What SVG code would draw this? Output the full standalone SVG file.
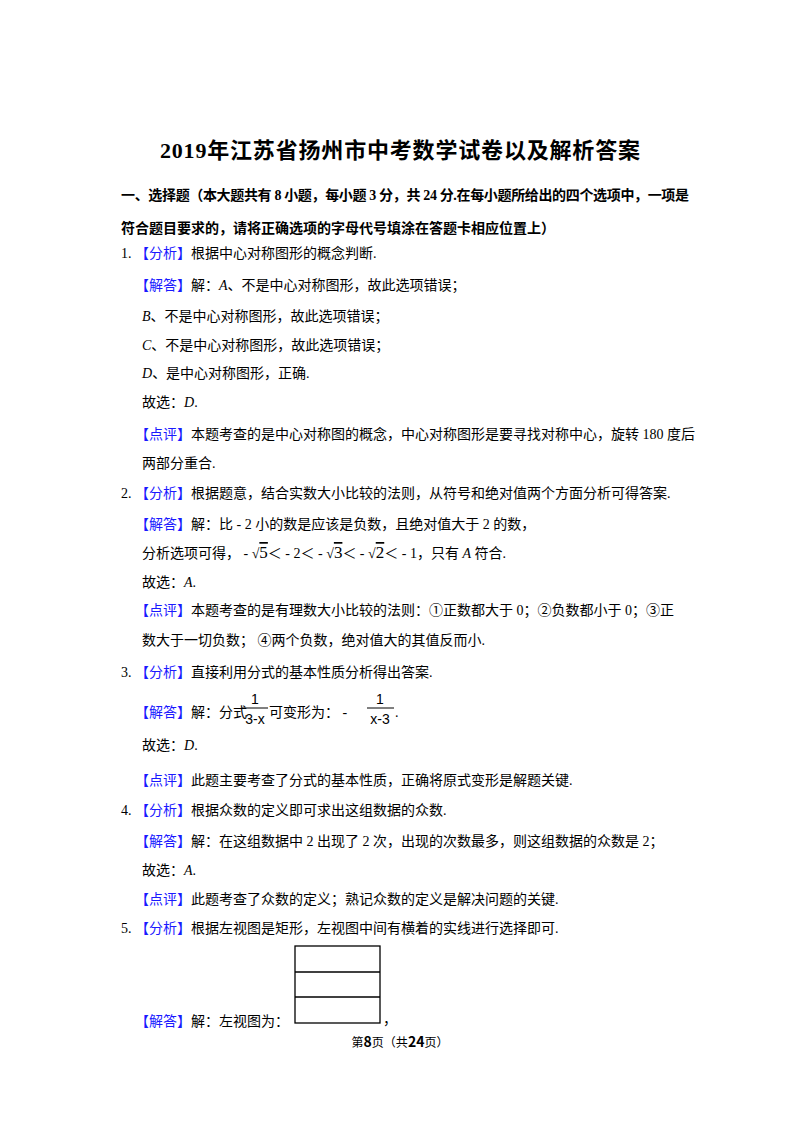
<svg xmlns="http://www.w3.org/2000/svg" width="800" height="1132" viewBox="0 0 800 1132">
<style>
text{font-family:"Liberation Serif","Noto Sans CJK SC",serif;font-size:14px;fill:#000}
.b{fill:#1a1aff}
.t{font-size:22px;font-weight:bold}
.h{font-weight:bold}
.i{font-style:italic}
.f{font-family:"Liberation Sans","Noto Sans CJK SC",sans-serif;font-size:14px}
.o{text-decoration:overline}
</style>
<rect width="800" height="1132" fill="#fff"/>
<text class="t" x="400" y="158" text-anchor="middle" textLength="480">2019年江苏省扬州市中考数学试卷以及解析答案</text>
<text class="h" x="121" y="200" textLength="568">一、选择题（本大题共有 8 小题，每小题 3 分，共 24 分.在每小题所给出的四个选项中，一项是</text>
<text class="h" x="121" y="233">符合题目要求的，请将正确选项的字母代号填涂在答题卡相应位置上）</text>
<text x="121" y="258">1.  <tspan class="b">【分析】</tspan>根据中心对称图形的概念判断.</text>
<text x="135" y="290"><tspan class="b">【解答】</tspan>解：<tspan class="i">A</tspan>、不是中心对称图形，故此选项错误；</text>
<text x="142" y="321"><tspan class="i">B</tspan>、不是中心对称图形，故此选项错误；</text>
<text x="142" y="350"><tspan class="i">C</tspan>、不是中心对称图形，故此选项错误；</text>
<text x="142" y="378"><tspan class="i">D</tspan>、是中心对称图形，正确.</text>
<text x="142" y="407">故选：<tspan class="i">D</tspan>.</text>
<text x="135" y="439"><tspan class="b">【点评】</tspan>本题考查的是中心对称图的概念，中心对称图形是要寻找对称中心，旋转 180 度后</text>
<text x="142" y="468">两部分重合.</text>
<text x="121" y="498">2.  <tspan class="b">【分析】</tspan>根据题意，结合实数大小比较的法则，从符号和绝对值两个方面分析可得答案.</text>
<text x="135" y="529"><tspan class="b">【解答】</tspan>解：比 - 2 小的数是应该是负数，且绝对值大于 2 的数，</text>
<text x="142" y="558">分析选项可得，  - √<tspan class="o" font-size="17">5</tspan>＜ - 2＜ - √<tspan class="o" font-size="17">3</tspan>＜ - √<tspan class="o" font-size="17">2</tspan>＜ - 1，只有 <tspan class="i">A</tspan> 符合.</text>
<text x="142" y="587">故选：<tspan class="i">A</tspan>.</text>
<text x="135" y="615"><tspan class="b">【点评】</tspan>本题考查的是有理数大小比较的法则：①正数都大于 0；②负数都小于 0；③正</text>
<text x="142" y="645">数大于一切负数；  ④两个负数，绝对值大的其值反而小.</text>
<text x="121" y="677">3.  <tspan class="b">【分析】</tspan>直接利用分式的基本性质分析得出答案.</text>
<text x="135" y="717"><tspan class="b">【解答】</tspan>解：分式</text>
<text class="f" x="255" y="704" text-anchor="middle">1</text>
<line x1="242" y1="708" x2="268" y2="708" stroke="#000" stroke-width="1"/>
<text class="f" x="255" y="724" text-anchor="middle">3-x</text>
<text x="269" y="717">可变形为：  -</text>
<text class="f" x="380" y="704" text-anchor="middle">1</text>
<line x1="367" y1="708" x2="394" y2="708" stroke="#000" stroke-width="1"/>
<text class="f" x="380" y="724" text-anchor="middle">x-3</text>
<text x="395" y="717">.</text>
<text x="142" y="750">故选：<tspan class="i">D</tspan>.</text>
<text x="135" y="785"><tspan class="b">【点评】</tspan>此题主要考查了分式的基本性质，正确将原式变形是解题关键.</text>
<text x="121" y="815">4.  <tspan class="b">【分析】</tspan>根据众数的定义即可求出这组数据的众数.</text>
<text x="135" y="846"><tspan class="b">【解答】</tspan>解：在这组数据中 2 出现了 2 次，出现的次数最多，则这组数据的众数是 2；</text>
<text x="142" y="875">故选：<tspan class="i">A</tspan>.</text>
<text x="135" y="904"><tspan class="b">【点评】</tspan>此题考查了众数的定义；熟记众数的定义是解决问题的关键.</text>
<text x="121" y="933">5.  <tspan class="b">【分析】</tspan>根据左视图是矩形，左视图中间有横着的实线进行选择即可.</text>
<g id="leftview" fill="none" stroke="#000" stroke-width="1.3">
<rect x="295" y="946" width="85" height="77"/>
<line x1="295" y1="972" x2="380" y2="972"/>
<line x1="295" y1="997" x2="380" y2="997"/>
</g>
<text x="135" y="1026"><tspan class="b">【解答】</tspan>解：左视图为：</text>
<text x="383" y="1024">，</text>
<text x="400" y="1047" text-anchor="middle" style="font-family:'Noto Sans CJK SC',sans-serif;font-size:12px">第<tspan font-weight="bold" font-size="14">8</tspan>页（共<tspan font-weight="bold" font-size="14">24</tspan>页）</text>
</svg>
